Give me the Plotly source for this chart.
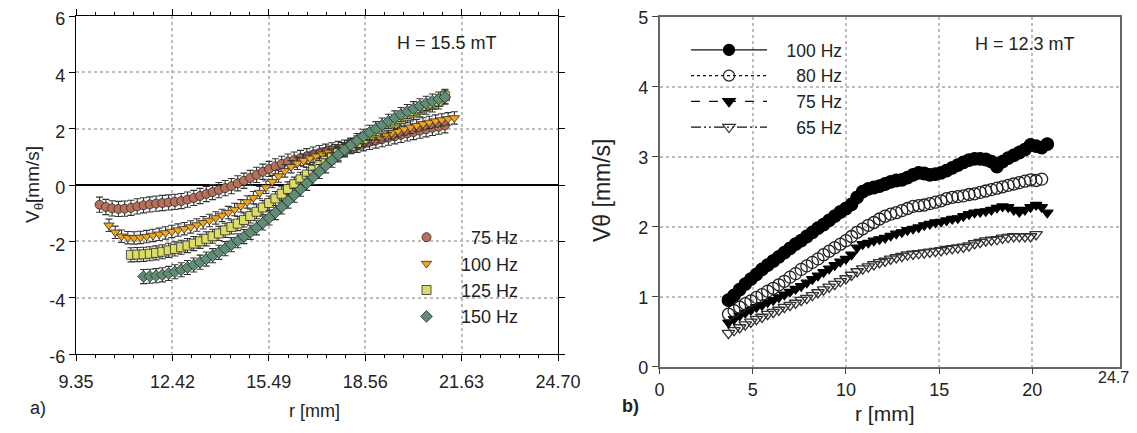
import plotly.graph_objects as go

# ---------------- Panel a) H = 15.5 mT ----------------
R_75 = [10.1, 10.3, 10.5, 10.7, 10.9, 11.1, 11.3, 11.5, 11.7, 11.9, 12.1, 12.3, 12.5, 12.7,
        12.9, 13.1, 13.3, 13.5, 13.7, 13.9, 14.1, 14.3, 14.5, 14.7, 14.9, 15.1, 15.3, 15.5,
        15.7, 15.9, 16.1, 16.3, 16.5, 16.7, 16.9, 17.1, 17.3, 17.5, 17.7, 17.9, 18.1, 18.3,
        18.5, 18.7, 18.9, 19.1, 19.3, 19.5, 19.7, 19.9, 20.1, 20.3, 20.5, 20.7, 20.9, 21.1]
V_75 = [-0.70, -0.78, -0.83, -0.85, -0.84, -0.81, -0.76, -0.72, -0.69, -0.66,
        -0.64, -0.62, -0.60, -0.57, -0.52, -0.46, -0.39, -0.32, -0.25, -0.18,
        -0.11, -0.04, 0.06, 0.15, 0.25, 0.36, 0.47, 0.57, 0.66, 0.75,
        0.83, 0.90, 0.96, 1.02, 1.08, 1.13, 1.18, 1.23, 1.28, 1.33,
        1.38, 1.43, 1.48, 1.53, 1.58, 1.63, 1.68, 1.73, 1.78, 1.83,
        1.88, 1.93, 1.98, 2.03, 2.07, 2.12]

R_100 = [10.4, 10.6, 10.8, 11.0, 11.2, 11.4, 11.6, 11.8, 12.0, 12.2, 12.4, 12.6, 12.8, 13.0,
         13.2, 13.4, 13.6, 13.8, 14.0, 14.2, 14.4, 14.6, 14.8, 15.0, 15.2, 15.4, 15.6, 15.8,
         16.0, 16.2, 16.4, 16.6, 16.8, 17.0, 17.2, 17.4, 17.6, 17.8, 18.0, 18.2, 18.4, 18.6,
         18.8, 19.0, 19.2, 19.4, 19.6, 19.8, 20.0, 20.2, 20.4, 20.6, 20.8, 21.0, 21.2, 21.4]
V_100 = [-1.43, -1.68, -1.82, -1.87, -1.88, -1.86, -1.83, -1.79, -1.75, -1.70,
         -1.65, -1.60, -1.55, -1.49, -1.42, -1.34, -1.26, -1.17, -1.08, -0.98,
         -0.87, -0.74, -0.60, -0.45, -0.27, -0.08, 0.12, 0.32, 0.50, 0.65,
         0.77, 0.87, 0.95, 1.02, 1.09, 1.16, 1.22, 1.29, 1.36, 1.43,
         1.50, 1.57, 1.64, 1.71, 1.78, 1.85, 1.92, 1.99, 2.05, 2.11,
         2.17, 2.22, 2.27, 2.31, 2.35, 2.38]

R_125 = R_75[5:]   # 11.1 ... 21.1
V_125 = [-2.48, -2.47, -2.46, -2.44, -2.41, -2.37, -2.32, -2.27, -2.21, -2.15,
         -2.08, -2.00, -1.91, -1.82, -1.72, -1.61, -1.49, -1.37, -1.24, -1.10,
         -0.95, -0.80, -0.64, -0.48, -0.31, -0.14, 0.03, 0.20, 0.37, 0.54,
         0.70, 0.86, 1.00, 1.13, 1.26, 1.38, 1.50, 1.62, 1.74, 1.86,
         1.98, 2.10, 2.22, 2.34, 2.46, 2.57, 2.67, 2.76, 2.84, 2.95,
         3.15]

R_150 = R_75[7:]   # 11.5 ... 21.1
V_150 = [-3.25, -3.24, -3.22, -3.19, -3.14, -3.08, -3.01, -2.93, -2.84, -2.74,
         -2.63, -2.51, -2.39, -2.26, -2.12, -1.98, -1.83, -1.68, -1.52, -1.35,
         -1.17, -0.98, -0.78, -0.57, -0.36, -0.15, 0.06, 0.27, 0.48, 0.68,
         0.88, 1.07, 1.25, 1.42, 1.58, 1.73, 1.87, 2.00, 2.13, 2.26,
         2.38, 2.50, 2.61, 2.71, 2.81, 2.90, 2.98, 3.05, 3.12]

ERR_A = {"75 Hz": 0.27, "100 Hz": 0.22, "125 Hz": 0.25, "150 Hz": 0.25}
A_YTICKS = [-6, -4, -2, 0, 2, 4, 6]
A_YLABELS = ["-6", "-4", "-2", "0", "2", "4", "6"]

# ---------------- Panel b) H = 12.3 mT ----------------
R_B = [3.7, 4.0, 4.3, 4.6, 4.9, 5.2, 5.5, 5.8, 6.1, 6.4, 6.7, 7.0, 7.3, 7.6, 7.9, 8.2, 8.5,
       8.8, 9.1, 9.4, 9.7, 10.0, 10.3, 10.6, 10.9, 11.2, 11.5, 11.8, 12.1, 12.4, 12.7, 13.0,
       13.3, 13.6, 13.9, 14.2, 14.5, 14.8, 15.1, 15.4, 15.7, 16.0, 16.3, 16.6, 16.9, 17.2,
       17.5, 17.8, 18.1, 18.4, 18.7, 19.0, 19.3, 19.6, 19.9, 20.2, 20.5, 20.8]
B_100 = [0.95, 1.02, 1.10, 1.18, 1.25, 1.32, 1.39, 1.45, 1.51, 1.57,
         1.63, 1.69, 1.75, 1.80, 1.86, 1.92, 1.98, 2.03, 2.09, 2.15,
         2.21, 2.26, 2.32, 2.42, 2.50, 2.54, 2.56, 2.58, 2.61, 2.64,
         2.66, 2.67, 2.70, 2.74, 2.77, 2.76, 2.74, 2.75, 2.77, 2.80,
         2.84, 2.88, 2.92, 2.95, 2.97, 2.97, 2.96, 2.93, 2.86, 2.93,
         2.98, 3.02, 3.06, 3.10, 3.17, 3.15, 3.13, 3.18]
B_80 = [0.75, 0.80, 0.85, 0.90, 0.94, 0.99, 1.03, 1.08, 1.12, 1.17,
        1.22, 1.28, 1.33, 1.39, 1.44, 1.49, 1.54, 1.60, 1.65, 1.70,
        1.75, 1.80, 1.86, 1.92, 1.97, 2.02, 2.06, 2.11, 2.15, 2.18,
        2.20, 2.23, 2.26, 2.29, 2.30, 2.31, 2.33, 2.35, 2.37, 2.40,
        2.42, 2.43, 2.44, 2.46, 2.47, 2.49, 2.51, 2.53, 2.55, 2.57,
        2.59, 2.61, 2.63, 2.65, 2.67, 2.66, 2.68]
B_75 = [0.63, 0.68, 0.73, 0.77, 0.81, 0.85, 0.88, 0.92, 0.95, 0.99,
        1.03, 1.07, 1.11, 1.15, 1.20, 1.25, 1.30, 1.35, 1.40, 1.45,
        1.50, 1.54, 1.60, 1.70, 1.75, 1.77, 1.80, 1.82, 1.84, 1.87,
        1.90, 1.92, 1.95, 1.97, 1.99, 2.02, 2.04, 2.06, 2.07, 2.09,
        2.11, 2.12, 2.15, 2.18, 2.20, 2.21, 2.22, 2.24, 2.27, 2.29,
        2.28, 2.24, 2.21, 2.24, 2.28, 2.31, 2.28, 2.20]
B_65 = [0.48, 0.52, 0.56, 0.60, 0.64, 0.68, 0.71, 0.75, 0.78, 0.81,
        0.85, 0.88, 0.91, 0.95, 0.98, 1.02, 1.06, 1.10, 1.14, 1.18,
        1.22, 1.26, 1.31, 1.36, 1.40, 1.43, 1.46, 1.49, 1.51, 1.54,
        1.56, 1.58, 1.60, 1.61, 1.62, 1.63, 1.64, 1.65, 1.66, 1.68,
        1.69, 1.70, 1.71, 1.73, 1.76, 1.78, 1.80, 1.81, 1.82, 1.84,
        1.85, 1.86, 1.86, 1.86, 1.86, 1.89]
B_TICKS = [0, 5, 10, 15, 20]

FONT = "Liberation Sans, Arial, sans-serif"
# the page body has an 8 px margin: the figure fills the rest of the 1137x433 window
OFF = 8
W, H = 1137 - OFF, 433 - OFF
NB = "\u00a0"
FS = "\u2007"


def px(x):
    return (x - OFF) / W


def py(y):
    return 1 - (y - OFF) / H


fig = go.Figure()

# ---- panel a traces ----
a_series = [
    ("75 Hz", FS + "75 Hz", R_75, V_75, "circle", "#b5705a"),
    ("100 Hz", "100 Hz", R_100, V_100, "triangle-down", "#f2a41c"),
    ("125 Hz", "125 Hz", R_125, V_125, "square", "#dcdc68"),
    ("150 Hz", "150 Hz", R_150, V_150, "diamond", "#5f8d75"),
]
for key, label, xs, ys, sym, col in a_series:
    fig.add_trace(go.Scatter(
        x=xs, y=ys, mode="markers", name=label, legend="legend",
        xaxis="x", yaxis="y",
        marker=dict(symbol=sym, size=9, color=col, line=dict(color="#2a2a2a", width=0.8)),
        error_y=dict(type="constant", value=ERR_A[key], color="#333333", thickness=1.1, width=3.5),
    ))

# ---- panel b traces (markers only) ----
b_series = [
    ("65 Hz", B_65, "triangle-down-open", 11, "#333333"),
    ("75 Hz", B_75, "triangle-down", 10, "#000000"),
    ("80 Hz", B_80, "circle-open", 12, "#222222"),
    ("100 Hz", B_100, "circle", 12.5, "#000000"),
]
for label, ys, sym, size, col in b_series:
    fig.add_trace(go.Scatter(
        x=R_B[:len(ys)], y=ys, mode="markers", showlegend=False,
        xaxis="x2", yaxis="y2",
        marker=dict(symbol=sym, size=size, color=col, line=dict(color=col, width=1.3)),
    ))

# ---- panel b legend entries (line + marker samples) ----
b_legend = [
    (NB * 3 + "100 Hz", "solid", "circle", "#000000"),
    (NB * 3 + FS + "80 Hz", "dot", "circle-open", "#222222"),
    (NB * 3 + FS + "75 Hz", "dash", "triangle-down", "#000000"),
    (NB * 3 + FS + "65 Hz", "10px,3px,2px,3px,2px,3px", "triangle-down-open", "#333333"),
]
for label, dash, sym, col in b_legend:
    fig.add_trace(go.Scatter(
        x=[None], y=[None], mode="lines+markers", name=label, legend="legend2",
        xaxis="x2", yaxis="y2",
        line=dict(color="#111111", width=1.3, dash=dash),
        marker=dict(symbol=sym, size=11, color=col, line=dict(color=col, width=1.2)),
    ))

grid = dict(showgrid=True, gridcolor="#bdbdbd", griddash="dot", gridwidth=1.5)
tickfont = dict(family=FONT, size=18, color="#222222")

fig.update_layout(
    width=W, height=H, margin=dict(l=0, r=0, t=0, b=0, autoexpand=False),
    paper_bgcolor="white", plot_bgcolor="white",
    font=dict(family=FONT, color="#222222"),
    xaxis=dict(domain=[px(76), px(558)], range=[9.35, 24.70], tickmode="linear",
               tick0=9.35, dtick=3.07, tickformat=".2f", tickfont=tickfont,
               showline=True, linecolor="black", linewidth=1.3, mirror="ticks",
               ticks="outside", ticklen=6, tickcolor="black", ticklabelstandoff=5,
               ticklabeloverflow="allow",
               minor=dict(ticks="outside", ticklen=3, tickcolor="black", dtick=0.614,
                          tick0=9.35, showgrid=False),
               zeroline=False, anchor="y", **grid),
    yaxis=dict(domain=[py(354), py(16)], range=[-6, 6], tickmode="array",
               tickvals=A_YTICKS, ticktext=A_YLABELS,
               tickfont=tickfont, showline=True, linecolor="black", linewidth=1.3,
               mirror="ticks", ticks="outside", ticklen=6, tickcolor="black",
               ticklabeloverflow="allow", ticklabelshift=3,
               zeroline=True, zerolinecolor="black", zerolinewidth=1.6,
               anchor="x", **grid),
    xaxis2=dict(domain=[px(659.5), px(1120)], range=[0, 24.7], tickmode="array",
                tickvals=B_TICKS, tickfont=tickfont, showline=True, linecolor="#666666",
                linewidth=1.5, mirror=True, ticks="outside", ticklen=6, tickcolor="#444444",
                ticklabelstandoff=0, ticklabeloverflow="allow",
                zeroline=False, anchor="y2", **grid),
    yaxis2=dict(domain=[py(366.7), py(16.7)], range=[0, 5], tickmode="linear", tick0=0,
                dtick=1, tickfont=tickfont, showline=True, linecolor="#666666",
                linewidth=1.5, mirror=True, ticks="outside", ticklen=6, tickcolor="#444444",
                ticklabeloverflow="allow", ticklabelshift=1,
                zeroline=False, anchor="x2", **grid),
    legend=dict(x=px(392), y=py(219), xanchor="left", yanchor="top",
                font=dict(family=FONT, size=18, color="#222222"),
                bgcolor="rgba(0,0,0,0)", itemwidth=59, tracegroupgap=0),
    legend2=dict(x=px(686), y=py(32), xanchor="left", yanchor="top",
                 font=dict(family=FONT, size=17.5, color="#222222"),
                 bgcolor="rgba(0,0,0,0)", itemwidth=76, tracegroupgap=0),
)

ann = [
    dict(text="H = 15.5 mT", x=px(447), y=py(43), size=18, xa="center"),
    dict(text="H = 12.3 mT", x=px(1025), y=py(44), size=18, xa="center"),
    dict(text="r [mm]", x=px(314), y=py(411), size=18, xa="center"),
    dict(text="r [mm]", x=px(884), y=py(413), size=21, xa="center"),
    dict(text="a)", x=px(38), y=py(408), size=18, xa="center"),
    dict(text="<b>b)</b>", x=px(630), y=py(406), size=18, xa="center"),
    dict(text="24.7", x=px(1131), y=py(377), size=16, xa="right"),
]
for a in ann:
    fig.add_annotation(text=a["text"], x=a["x"], y=a["y"], xref="paper", yref="paper",
                       showarrow=False, xanchor=a["xa"], yanchor="middle",
                       font=dict(family=FONT, size=a["size"], color="#222222"))

fig.add_annotation(text="V<sub>\u03b8</sub>[mm/s]", x=px(20), y=py(185), xref="paper",
                   yref="paper", showarrow=False, textangle=-90,
                   font=dict(family=FONT, size=19, color="#222222"))
fig.add_annotation(text="V\u03b8 [mm/s]", x=px(602), y=py(190), xref="paper",
                   yref="paper", showarrow=False, textangle=-90,
                   font=dict(family=FONT, size=23, color="#222222"))

fig.write_html("out.html")
